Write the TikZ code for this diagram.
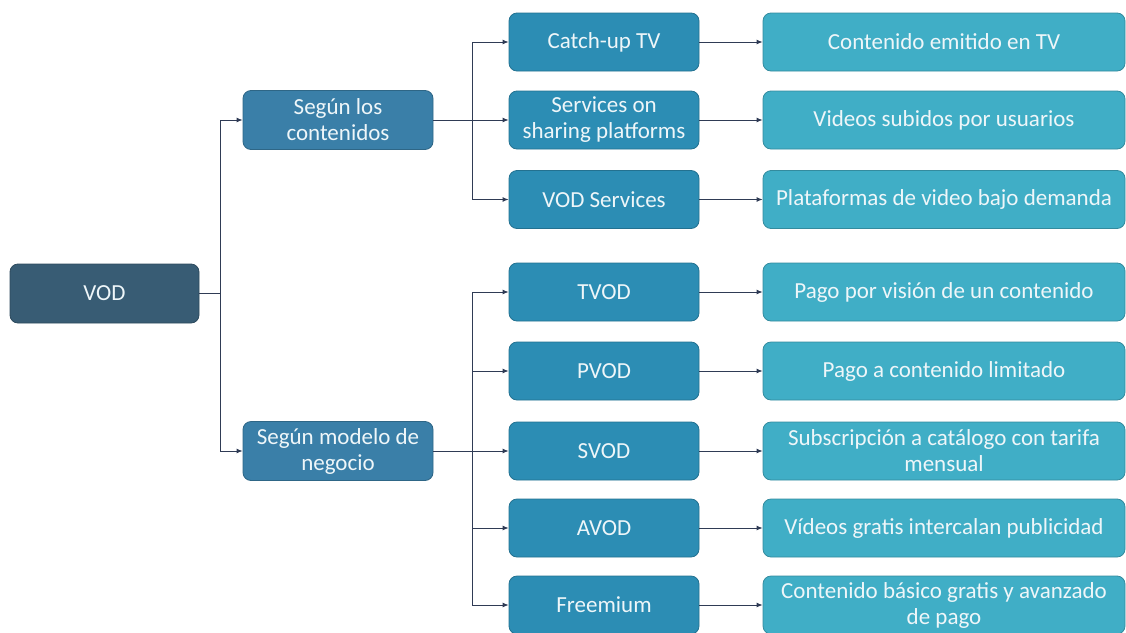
\documentclass[tikz,border=0pt]{standalone}
\usepackage{fontspec}
\setmainfont{Carlito}
\usetikzlibrary{arrows.meta}
\definecolor{cvod}{HTML}{385C74}
\definecolor{cone}{HTML}{3A7FA8}
\definecolor{ctwo}{HTML}{2C8DB4}
\definecolor{cthree}{HTML}{40AEC6}
\definecolor{cline}{HTML}{2F3B55}
\definecolor{ctext}{HTML}{EEF6F9}
\tikzset{
  box/.style={rounded corners=8pt, draw=#1!80!black, line width=0.8pt, fill=#1,
    text=ctext, align=center, font=\fontsize{23}{26}\selectfont, inner sep=2pt},
  arr/.style={draw=cline, line width=0.9pt, -{Latex[length=6pt,width=5pt]}},
  ln/.style={draw=cline, line width=0.9pt}
}
\begin{document}
\begin{tikzpicture}[x=1pt,y=-1pt]
\useasboundingbox (0,0) rectangle (1126,632);
% level 0
\node[box=cvod, minimum width=189pt, minimum height=59pt] (vod) at (104.5,293.5) {VOD};
% level 1
\node[box=cone, minimum width=190pt, minimum height=59pt] (s1) at (338,120) {Según los\\contenidos};
\node[box=cone, minimum width=190pt, minimum height=59pt] (s2) at (338,451) {Según modelo de\\negocio};
% level 2
\tikzset{two/.style={box=ctwo, minimum width=190pt, minimum height=58pt}}
\node[two] (a1) at (604,42) {Catch-up TV};
\node[two] (a2) at (604,120) {Services on\\sharing platforms};
\node[two] (a3) at (604,199.5) {VOD Services};
\node[two] (b1) at (604,292) {TVOD};
\node[two] (b2) at (604,371) {PVOD};
\node[two] (b3) at (604,451) {SVOD};
\node[two] (b4) at (604,528) {AVOD};
\node[two] (b5) at (604,605) {Freemium};
% level 3
\tikzset{three/.style={box=cthree, minimum width=362pt, minimum height=58pt}}
\node[three] (d1) at (944,42) {Contenido emitido en TV};
\node[three] (d2) at (944,120) {Videos subidos por usuarios};
\node[three] (d3) at (944,199.5) {Plataformas de video bajo demanda};
\node[three] (e1) at (944,292) {Pago por visión de un contenido};
\node[three] (e2) at (944,371) {Pago a contenido limitado};
\node[three] (e3) at (944,451) {Subscripción a catálogo con tarifa\\mensual};
\node[three] (e4) at (944,528) {Vídeos gratis intercalan publicidad};
\node[three] (e5) at (944,605) {Contenido básico gratis y avanzado\\de pago};
% trunks
\coordinate (t0) at (220,293.5);
\coordinate (t1) at (472,120);
\coordinate (t2) at (472,451);
\draw[ln] (vod.east) -- (t0);
\draw[arr] (t0) |- (s1.west);
\draw[arr] (t0) |- (s2.west);
\draw[ln] (s1.east) -- (t1);
\draw[arr] (t1) |- (a1.west);
\draw[arr] (t1) |- (a2.west);
\draw[arr] (t1) |- (a3.west);
\draw[ln] (s2.east) -- (t2);
\draw[arr] (t2) |- (b1.west);
\draw[arr] (t2) |- (b2.west);
\draw[arr] (t2) |- (b3.west);
\draw[arr] (t2) |- (b4.west);
\draw[arr] (t2) |- (b5.west);
% level 2 -> 3
\foreach \p/\q in {a1/d1,a2/d2,a3/d3,b1/e1,b2/e2,b3/e3,b4/e4,b5/e5}
  \draw[arr] (\p.east) -- (\q.west);
\end{tikzpicture}
\end{document}
